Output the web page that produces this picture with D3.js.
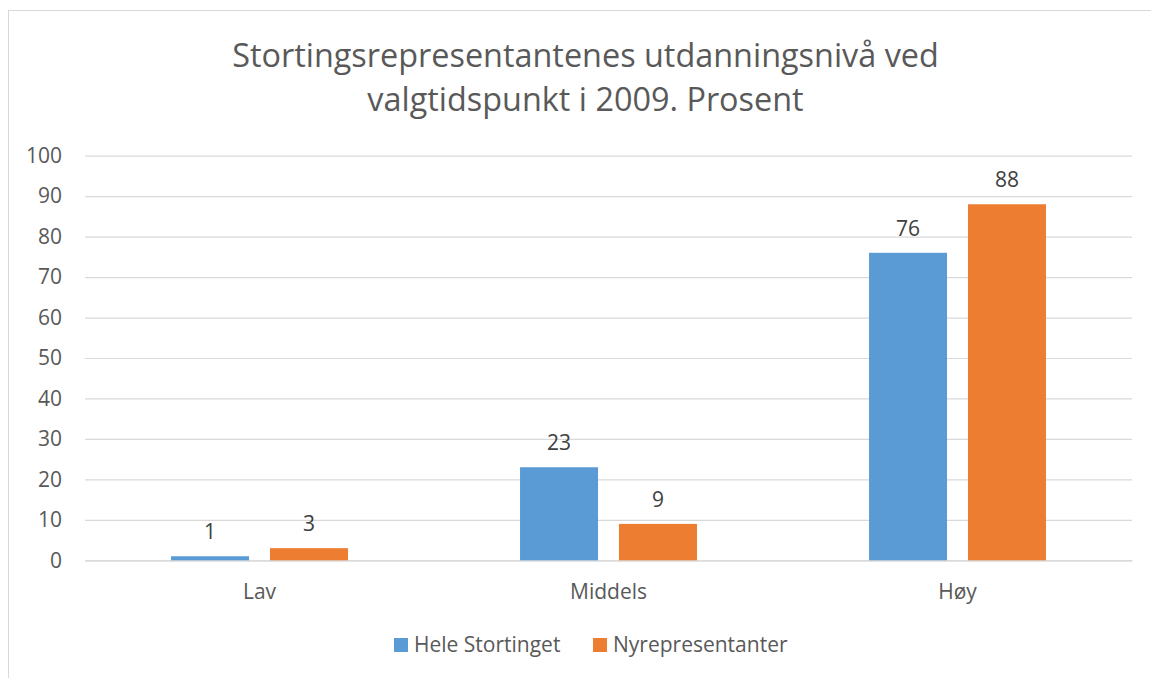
<!DOCTYPE html>
<html><head><meta charset="utf-8">
<script src="https://cdn.jsdelivr.net/npm/d3@7"></script>
<style>
html,body{margin:0;padding:0;background:#fff;}
svg{display:block;font-family:"Open Sans",sans-serif;}
</style></head>
<body>
<svg id="c" width="1151" height="678"></svg>
<script>
const categories = ["Lav", "Middels", "Høy"];
const seriesNames = ["Hele Stortinget", "Nyrepresentanter"];
const heleStortinget = [1, 23, 76];
const nyrepresentanter = [3, 9, 88];
const yTicks = [0, 10, 20, 30, 40, 50, 60, 70, 80, 90, 100];
const titleLines = ["Stortingsrepresentantenes utdanningsnivå ved", "valgtidspunkt i 2009. Prosent"];
const colors = ["#5B9BD5", "#ED7D31"];

const svg = d3.select("#c");
const W = 1151, H = 678;
const m = {left: 85, right: 1132, top: 155.7, bottom: 560.3};
const FS = "21px";

// chart border
svg.append("rect").attr("x", 8.5).attr("y", 10.5).attr("width", W + 10).attr("height", H + 10)
  .attr("fill", "none").attr("stroke", "#d9d9d9").attr("stroke-width", 1);

const x = d3.scaleBand().domain(categories).range([m.left, m.right]);
const y = d3.scaleLinear().domain([0, 100]).range([m.bottom, m.top]);
const series = seriesNames.map((n, i) => ({name: n, values: i === 0 ? heleStortinget : nyrepresentanter, color: colors[i]}));

// gridlines
const yAxis = d3.axisLeft(y).tickValues(yTicks).tickSize(-(m.right - m.left)).tickPadding(23).tickFormat(d3.format("d"));
const ga = svg.append("g").attr("transform", `translate(${m.left},0)`).call(yAxis);
ga.select(".domain").remove();
ga.selectAll(".tick line").attr("stroke", "#d9d9d9").attr("stroke-width", 1.2);
ga.selectAll(".tick text").attr("fill", "#595959").style("font-size", FS).style("font-family", "'Open Sans',sans-serif");

// x axis labels
const xa = d3.axisBottom(x).tickSize(0).tickPadding(24);
const gx = svg.append("g").attr("transform", `translate(0,${m.bottom})`).call(xa);
gx.select(".domain").attr("stroke", "#d9d9d9").attr("stroke-width", 1.2);
gx.selectAll(".tick text").attr("fill", "#595959").style("font-size", FS).style("font-family", "'Open Sans',sans-serif");

// bars
const bw = x.bandwidth();
const barW = bw * 0.2235, gap = bw * 0.06;
series.forEach((s, si) => {
  const g = svg.append("g");
  categories.forEach((c, ci) => {
    const v = s.values[ci];
    const x0 = x(c) + bw / 2 - (barW * 2 + gap) / 2 + si * (barW + gap);
    g.append("rect").attr("x", x0).attr("y", y(v)).attr("width", barW).attr("height", y(0) - y(v))
      .attr("fill", s.color);
    g.append("text").attr("x", x0 + barW / 2).attr("y", y(v) - 17).attr("text-anchor", "middle")
      .attr("fill", "#404040").style("font-size", FS).text(v);
  });
});

// title
svg.append("g").selectAll("text").data(titleLines).join("text")
  .attr("x", 585.5).attr("y", (d, i) => 67 + i * 44).attr("text-anchor", "middle")
  .attr("fill", "#595959").style("font-size", "32.4px").text(d => d);

// legend
const lg = svg.append("g");
const legX = [394, 593];
series.forEach((s, i) => {
  lg.append("rect").attr("x", legX[i]).attr("y", 638).attr("width", 14).attr("height", 14).attr("fill", s.color);
  lg.append("text").attr("x", legX[i] + 20).attr("y", 652).attr("fill", "#595959").style("font-size", FS).text(s.name);
});
</script>
</body></html>
